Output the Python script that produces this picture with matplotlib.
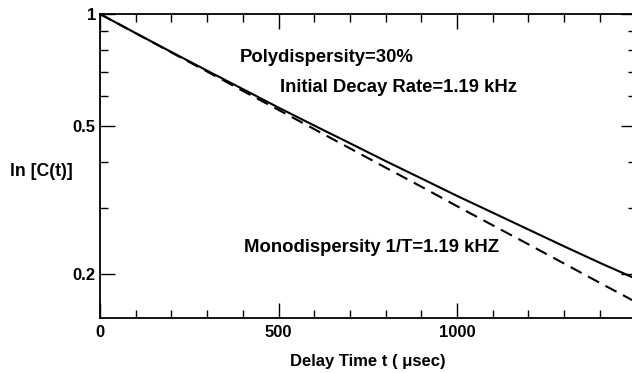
import matplotlib
matplotlib.use("Agg")
import matplotlib.pyplot as plt
from matplotlib.ticker import FixedLocator, NullFormatter

plt.rcParams['font.family'] = ['Liberation Sans', 'DejaVu Sans']
plt.rcParams['font.weight'] = 'bold'
plt.rcParams['axes.labelweight'] = 'bold'

# delay time in microseconds
t_us = [0, 100, 200, 300, 400, 500, 600, 700, 800, 900, 1000,
        1100, 1200, 1300, 1400, 1500]
# polydisperse correlation (30%)
poly = [1.000, 0.888, 0.790, 0.704, 0.628, 0.560, 0.501, 0.449,
        0.402, 0.361, 0.324, 0.292, 0.263, 0.237, 0.214, 0.194]
# monodisperse, 1/T = 1.19 kHz
mono = [1.000, 0.888, 0.788, 0.700, 0.621, 0.552, 0.490, 0.435,
        0.386, 0.343, 0.304, 0.270, 0.240, 0.213, 0.189, 0.168]

xticks = [0, 500, 1000]
yticks = [0.2, 0.5, 1]
ytick_labels = ['0.2', '0.5', '1']

fig = plt.figure(figsize=(6.32, 3.73), dpi=100)
ax = fig.add_axes([100/632, 1 - 318/373, 535.5/632, 304/373])

ax.plot(t_us, poly, color='black', lw=1.5, solid_capstyle='butt')
ax.plot(t_us, mono, color='black', lw=1.5, dashes=(6, 3.5))

ax.set_yscale('log')
ax.set_xlim(0, 1500)
ax.set_ylim(0.152, 1.0)

ax.xaxis.set_major_locator(FixedLocator(xticks))
ax.xaxis.set_minor_locator(FixedLocator(list(range(0, 1600, 100))))
ax.set_xticklabels([str(v) for v in xticks])
ax.yaxis.set_major_locator(FixedLocator(yticks))
ax.yaxis.set_minor_locator(FixedLocator([0.3, 0.4, 0.6, 0.7, 0.8, 0.9]))
ax.set_yticklabels(ytick_labels)
ax.yaxis.set_minor_formatter(NullFormatter())

ax.tick_params(which='both', direction='in', top=True, right=True,
               width=1, labelsize=12)
ax.tick_params(which='major', length=11)
ax.tick_params(which='minor', length=6)
ax.tick_params(axis='x', which='major', pad=5)
ax.tick_params(axis='y', which='major', pad=3)
for s in ax.spines.values():
    s.set_linewidth(1.3)

ax.set_xlabel('Delay Time t ( \u03bcsec)', fontsize=12, labelpad=10)
fig.text(10/632, 1 - 172/373, 'ln [C(t)]', fontsize=12.7, va='center', ha='left')

fig.text(240/632, 1 - 58/373, 'Polydispersity=30%', fontsize=13.3, va='center')
fig.text(280/632, 1 - 88/373, 'Initial Decay Rate=1.19 kHz', fontsize=13.3, va='center')
fig.text(244/632, 1 - 247/373, 'Monodispersity 1/T=1.19 kHZ', fontsize=13.3, va='center')

fig.savefig('out.png', dpi=100)
